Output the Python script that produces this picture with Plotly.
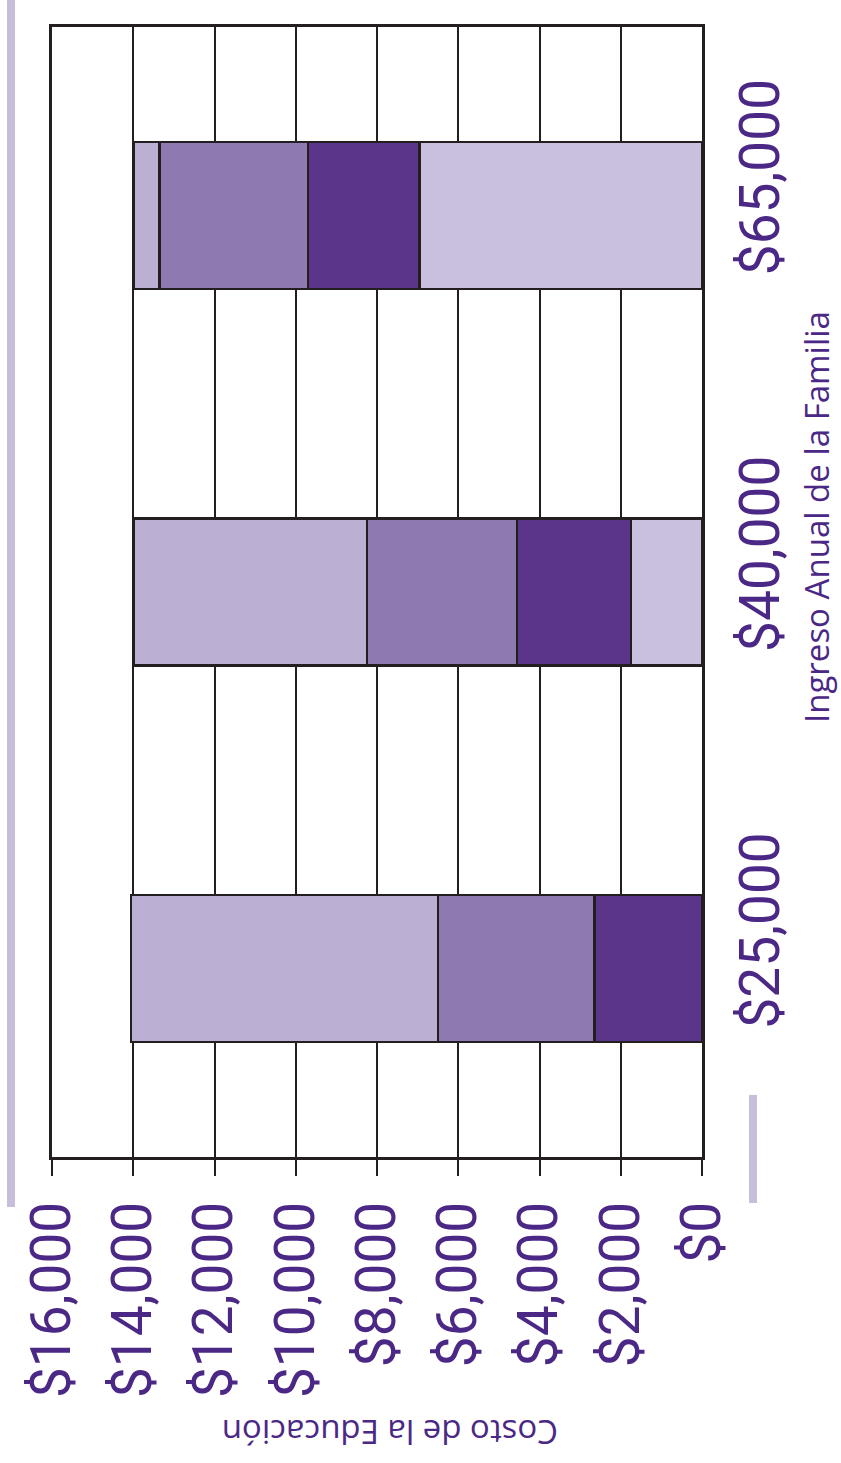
import plotly.graph_objects as go

# ---- data ----
categories = ["$25,000", "$40,000", "$65,000"]
series_a = [0, 1750, 6950]        # lightest lavender (base)
series_b = [2650, 2800, 2750]     # dark purple
series_c = [3850, 3700, 3650]     # medium purple
series_d = [7550, 5750, 650]      # light purple
x_tickvals = [0, 2000, 4000, 6000, 8000, 10000, 12000, 14000, 16000]
x_ticktext = ["$0", "$2,000", "$4,000", "$6,000", "$8,000", "$10,000", "$12,000", "$14,000", "$16,000"]
x_title = "Costo de la Educación"
y_title = "Ingreso Anual de la Familia"

# ---- style ----
W, H = 841, 1463
L, R, T, B = 52, 702, 27, 1157
INK = "#231f20"
TXT = "#4b2885"
FONT = "Roboto"
TFONT = "Open Sans"
colors = ["#c8c0dc", "#5b3589", "#8e7ab1", "#bbb0d3"]
DECO = "#c6bedb"


def px(xp):
    return (xp - L) / (R - L)


def py(yp):
    return (B - yp) / (B - T)


fig = go.Figure()
for vals, col in zip([series_a, series_b, series_c, series_d], colors):
    fig.add_trace(go.Bar(
        y=categories, x=vals, orientation="h",
        marker=dict(color=col, line=dict(color=INK, width=2.5)),
        showlegend=False, hoverinfo="x+y",
    ))

fig.update_layout(
    width=W, height=H,
    margin=dict(l=L, r=W - R, t=T, b=H - B, pad=0),
    paper_bgcolor="white", plot_bgcolor="white",
    barmode="stack", bargap=0.61,
    font=dict(family=FONT, color=TXT),
    xaxis=dict(
        range=[16000, 0], tickvals=x_tickvals, ticktext=x_ticktext,
        tickangle=-90, tickfont=dict(size=55, color=TXT, family=FONT),
        ticks="outside", ticklen=16, tickwidth=2, tickcolor=INK,
        showgrid=True, gridcolor=INK, gridwidth=2,
        showline=True, linecolor=INK, linewidth=2.5, mirror=True,
        zeroline=False, ticklabelstandoff=4,
    ),
    yaxis=dict(
        type="category", side="right", tickangle=-90,
        tickfont=dict(size=55, color=TXT, family=FONT),
        ticks="", showgrid=False,
        showline=True, linecolor=INK, linewidth=2.5, mirror=True,
        ticklabelshift=-30, ticklabelstandoff=8,
    ),
    annotations=[
        dict(text=x_title, textangle=180, showarrow=False,
             xref="paper", yref="paper", x=px(390), y=py(1433),
             xanchor="center", yanchor="middle",
             font=dict(size=33, color=TXT, family=TFONT)),
        dict(text=y_title, textangle=-90, showarrow=False,
             xref="paper", yref="paper", x=px(816), y=py(517),
             xanchor="center", yanchor="middle",
             font=dict(size=33, color=TXT, family=TFONT)),
    ],
    shapes=[
        dict(type="line", xref="paper", yref="paper",
             x0=px(11), x1=px(11), y0=py(0), y1=py(1207),
             line=dict(color=DECO, width=8)),
        dict(type="line", xref="paper", yref="paper",
             x0=px(753), x1=px(753), y0=py(1095), y1=py(1203),
             line=dict(color=DECO, width=8)),
    ],
)

fig.write_html("out.html", config={"displayModeBar": False},
               post_script="document.body.style.margin='0';")
